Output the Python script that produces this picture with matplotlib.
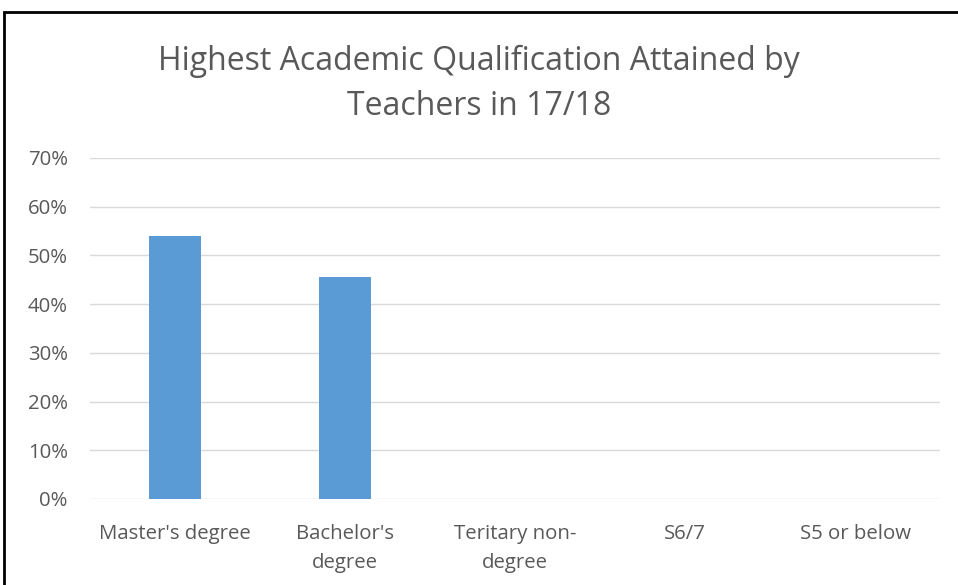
import matplotlib.pyplot as plt
from matplotlib.patches import Rectangle
from matplotlib.ticker import PercentFormatter

categories = ["Master's degree", "Bachelor's\ndegree", "Teritary non-\ndegree", "S6/7", "S5 or below"]
shares = [54.0, 45.6, 0.0, 0.0, 0.0]
y_ticks = [0, 10, 20, 30, 40, 50, 60, 70]

plt.rcParams['font.family'] = ['Open Sans', 'DejaVu Sans']
grey = '#595959'

fig = plt.figure(figsize=(9.58, 5.85), dpi=100)
ax = fig.add_axes([90 / 958, 1 - 499 / 585, 850 / 958, 341 / 585])

ax.bar(range(len(categories)), shares, width=0.31, color='#5b9bd5', zorder=3)
ax.set_xlim(-0.5, len(categories) - 0.5)
ax.set_ylim(0, 70)
ax.set_yticks(y_ticks)
ax.yaxis.set_major_formatter(PercentFormatter(decimals=0))
ax.set_xticks(range(len(categories)))
ax.set_xticklabels(categories, linespacing=1.6)
ax.grid(axis='y', color='#d9d9d9', linewidth=1, zorder=0)
ax.tick_params(axis='both', length=0, labelsize=14.7, colors=grey)
ax.tick_params(axis='y', pad=16)
ax.tick_params(axis='x', pad=18)
for s in ax.spines.values():
    s.set_visible(False)

fig.text(0.5, 1 - 84 / 585, 'Highest Academic Qualification Attained by\nTeachers in 17/18',
         ha='center', va='center', fontsize=23, color=grey, linespacing=1.5)

# outer frame
fig.patches.append(Rectangle((4 / 958, -0.01), 960 / 958, 1 - 12 / 585 + 0.01,
                             transform=fig.transFigure, fill=False,
                             edgecolor='black', linewidth=2))

fig.savefig('out.png', dpi=100)
